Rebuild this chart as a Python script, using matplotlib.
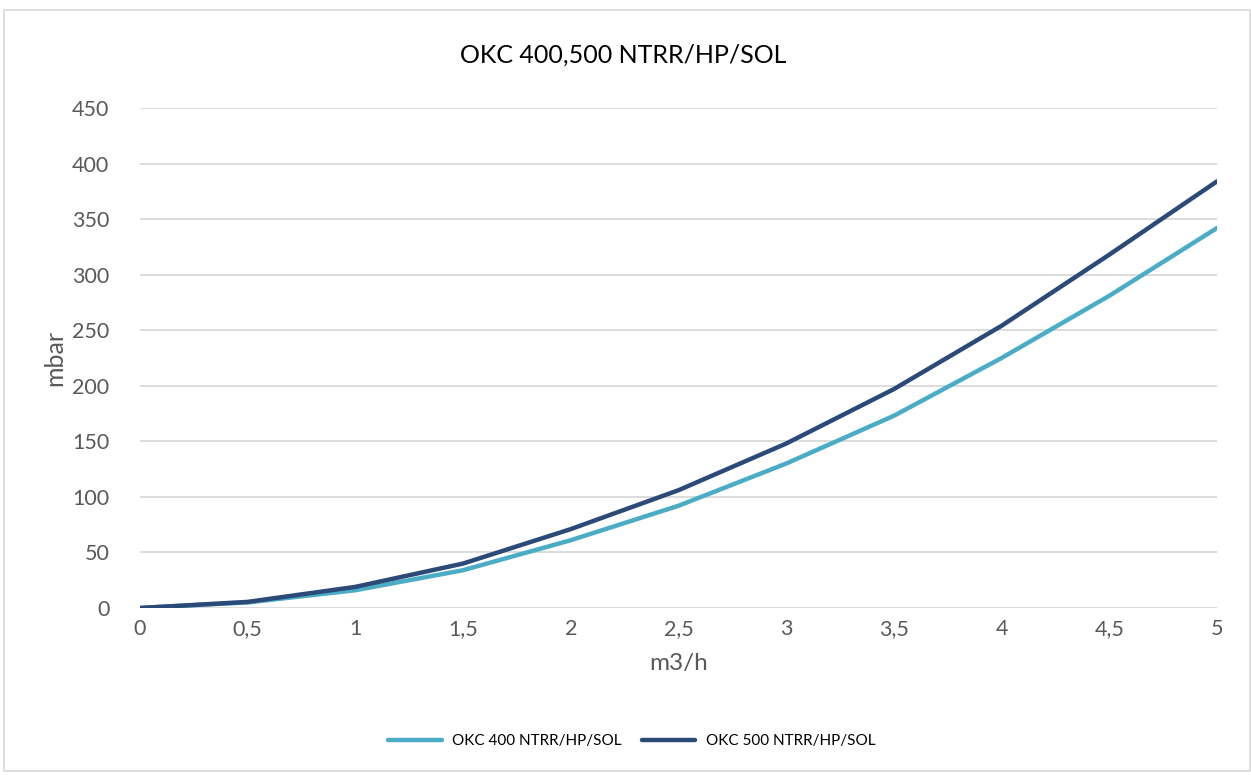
import matplotlib
matplotlib.use("Agg")
import matplotlib.pyplot as plt
from matplotlib.patches import Rectangle

flow = [0, 0.5, 1, 1.5, 2, 2.5, 3, 3.5, 4, 4.5, 5]
flow_labels = ["0", "0,5", "1", "1,5", "2", "2,5", "3", "3,5", "4", "4,5", "5"]
okc400 = [0, 5, 16, 34, 61, 92, 130, 173, 225, 281, 342]
okc500 = [0, 5.5, 19, 40, 71, 106, 148, 197, 254, 318, 384]
series_names = ["OKC 400 NTRR/HP/SOL", "OKC 500 NTRR/HP/SOL"]
y_ticks = [0, 50, 100, 150, 200, 250, 300, 350, 400, 450]

plt.rcParams['font.family'] = ['Lato', 'DejaVu Sans']

fig = plt.figure(figsize=(12.51, 7.75), dpi=100)
fig.patches.append(Rectangle((0.003, 0.005), 0.996, 0.982, transform=fig.transFigure,
                             fill=False, edgecolor='#D9D9D9', linewidth=1.2))
ax = fig.add_axes([0.1119, 0.2155, 0.8609, 0.6451])

ax.plot(flow, okc400, color='#4BACC6', linewidth=3.2, solid_capstyle='round',
        label=series_names[0], zorder=3)
ax.plot(flow, okc500, color='#2B4A78', linewidth=3.2, solid_capstyle='round',
        label=series_names[1], zorder=3)

ax.set_xlim(0, 5)
ax.set_ylim(0, 450)
ax.set_yticks(y_ticks)
ax.set_xticks(flow)
ax.set_xticklabels(flow_labels)
ax.grid(axis='y', color='#D9D9D9', linewidth=1.3)
ax.set_axisbelow(True)
for s in ax.spines.values():
    s.set_visible(False)
ax.tick_params(axis='both', length=0, labelsize=15.5, labelcolor='#595959')
ax.tick_params(axis='y', pad=22)
ax.tick_params(axis='x', pad=8)

ax.set_xlabel("m3/h", fontsize=17.5, color='#595959', labelpad=10)
ax.set_ylabel("mbar", fontsize=18, color='#595959', labelpad=4)
fig.text(0.498, 0.929, "OKC 400,500 NTRR/HP/SOL", ha='center', va='center',
         fontsize=18, color='#000000')

fig.legend(loc='center', bbox_to_anchor=(0.505, 0.044), ncol=2, frameon=False,
           fontsize=11, handlelength=3.5, columnspacing=1.3, handletextpad=0.7)

fig.savefig("out.png", dpi=100)
